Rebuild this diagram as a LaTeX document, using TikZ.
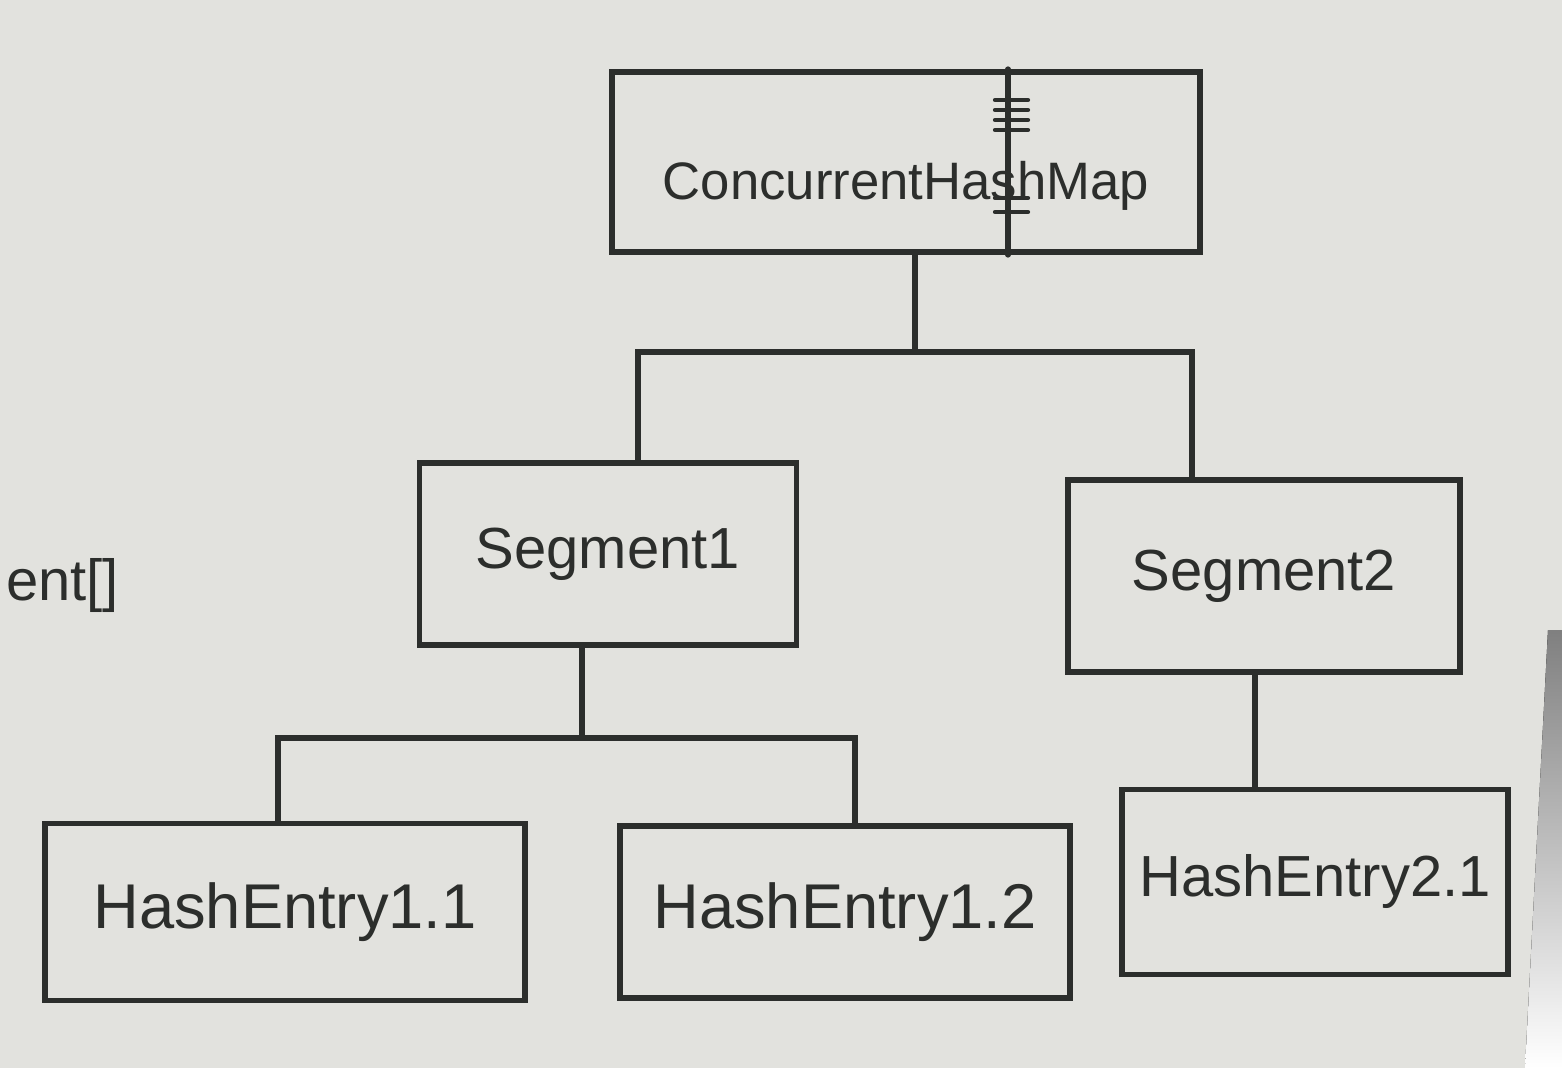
\documentclass[tikz,border=0pt]{standalone}
\usepackage{fontspec}
\setmainfont{Liberation Sans}
\usetikzlibrary{positioning}
\pgfdeclarelayer{background}
\pgfdeclarelayer{edgelayer}
\pgfdeclarelayer{nodelayer}
\pgfsetlayers{background,edgelayer,nodelayer,main}
\definecolor{paper}{RGB}{226,226,222}
\definecolor{shade}{RGB}{112,112,108}
\definecolor{ink}{RGB}{44,46,44}
\tikzstyle{block}=[rectangle,draw=ink,line width=3.2pt,text=ink,inner sep=0pt,font=\fontsize{33}{40}\selectfont]
\tikzstyle{link}=[draw=ink,line width=3.2pt,line cap=round]

\begin{document}
\begin{tikzpicture}[x=0.02cm,y=-0.02cm]
	\useasboundingbox (0,0) rectangle (1562,1068);
	\begin{pgfonlayer}{background}
		\fill [paper] (0,0) rectangle (1562,1068);
		\fill [shade] (1548,630) -- (1562,630) -- (1562,1068) -- (1525,1068) -- cycle;
	\end{pgfonlayer}
	\begin{pgfonlayer}{nodelayer}
		\node [style=block, minimum width=11.76cm, minimum height=3.6cm, text height=1.7cm, font=\fontsize{30}{36}\selectfont] (0) at (906, 162) {ConcurrentHashMap};
		\node [style=block, minimum width=7.54cm, minimum height=3.64cm] (1) at (608, 554) {Segment1};
		\node [style=block, minimum width=7.84cm, minimum height=3.84cm] (2) at (1264, 576) {Segment2};
		\node [style=block, minimum width=9.6cm, minimum height=3.54cm, font=\fontsize{36}{42}\selectfont] (3) at (285, 912) {HashEntry1.1};
		\node [style=block, minimum width=9.0cm, minimum height=3.44cm, font=\fontsize{36}{42}\selectfont] (4) at (845, 912) {HashEntry1.2};
		\node [style=block, minimum width=7.72cm, minimum height=3.7cm] (5) at (1315, 882) {HashEntry2.1};
		\node [text=ink, anchor=west, font=\fontsize{33}{40}\selectfont] (6) at (0, 586) {ent[]};
	\end{pgfonlayer}
	\begin{pgfonlayer}{edgelayer}
		% tree links
		\coordinate (j0) at (915, 352);
		\coordinate (j1) at (582, 738);
		\draw [style=link] (0.south -| j0) -- (j0);
		\draw [style=link] (j0) -| ([xshift=0.6cm]1.north);
		\draw [style=link] (j0) -| ([xshift=-1.44cm]2.north);
		\draw [style=link] (1.south -| j1) -- (j1);
		\draw [style=link] (j1) -| ([xshift=-0.14cm]3.north);
		\draw [style=link] (j1) -| ([xshift=0.2cm]4.north);
		\draw [style=link] ([xshift=-0.18cm]2.south) -- ([xshift=-0.18cm]2.south |- 5.north);
		% mark across the top box
		\draw [style=link] (0.north -| 1008, 0) -- (0.south -| 1008, 0);
		\foreach \y in {100, 110, 120, 130, 198, 212}
			\draw [style=link, line width=2.4pt] (995, \y) -- (1028, \y);
	\end{pgfonlayer}
\end{tikzpicture}
\end{document}
